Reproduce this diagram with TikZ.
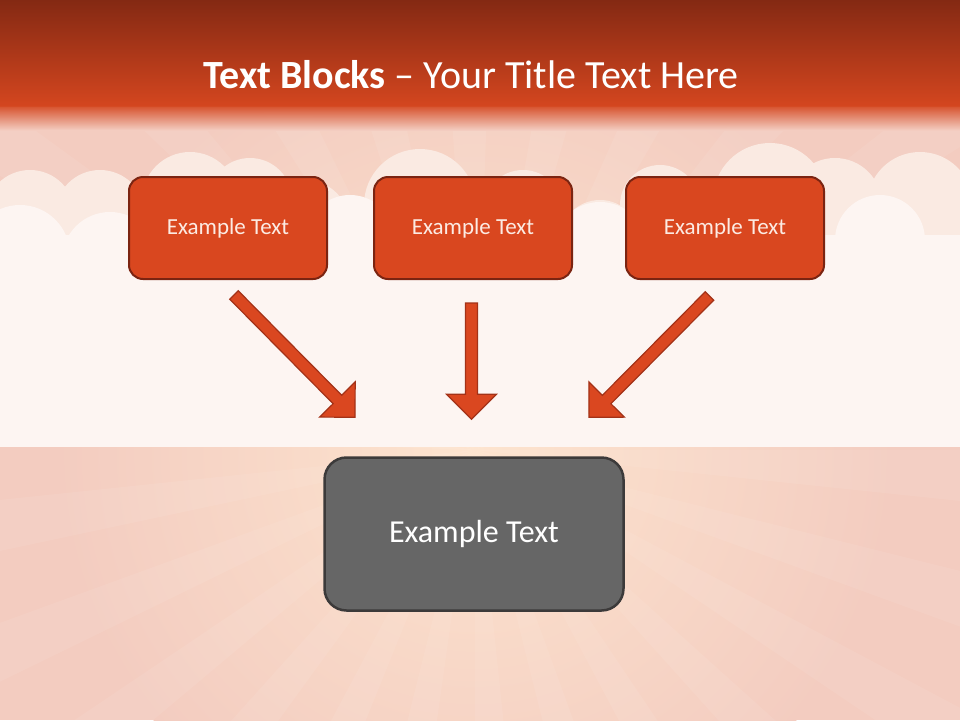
\documentclass[tikz,border=0pt]{standalone}
\usepackage{fontspec}
\setmainfont{Carlito}
\usetikzlibrary{calc,positioning}
\definecolor{barTop}{HTML}{842913}
\definecolor{barBottom}{HTML}{D4461F}
\definecolor{skyPink}{HTML}{F3CCC0}
\definecolor{glowPeach}{HTML}{FDE4CF}
\definecolor{cloudBack}{HTML}{FAEAE2}
\definecolor{cloudFront}{HTML}{FDF5F2}
\definecolor{blockFill}{HTML}{D9471F}
\definecolor{blockLine}{HTML}{7B2411}
\definecolor{blockText}{HTML}{FCEBE3}
\definecolor{arrowFill}{HTML}{DA4720}
\definecolor{arrowLine}{HTML}{A33218}
\definecolor{resultFill}{HTML}{666666}
\definecolor{resultLine}{HTML}{3C3A3A}
\tikzset{
  textblock/.style={draw=blockLine, fill=blockFill, line width=2pt, rounded corners=14pt,
    minimum width=198pt, minimum height=102pt, text=blockText, font=\fontsize{23}{27}\selectfont},
  resultblock/.style={draw=resultLine, fill=resultFill, line width=2.5pt, rounded corners=22pt,
    minimum width=299pt, minimum height=153pt, text=white, font=\fontsize{32}{38}\selectfont},
  blockarrow/.style={fill=arrowFill, draw=arrowLine, line width=1.2pt, line join=miter},
  ray/.style={white, opacity=0.07}
}
% block arrow from #1 to #2
\newcommand{\blockarrow}[2]{%
  \coordinate (hb) at ($(#2)!25pt!(#1)$);
  \filldraw[blockarrow] ($(#1)!6pt!90:(#2)$) -- ($(hb)!6pt!90:(#2)$) -- ($(hb)!25pt!90:(#2)$)
    -- (#2) -- ($(hb)!25pt!-90:(#2)$) -- ($(hb)!6pt!-90:(#2)$) -- ($(#1)!6pt!-90:(#2)$) -- cycle;
}
\begin{document}
\begin{tikzpicture}[x=1pt, y=-1pt]
\useasboundingbox (0,0) rectangle (960,720);
% background and sun rays
\fill[skyPink] (0,0) rectangle (960,720);
\shade[inner color=glowPeach, outer color=skyPink] (475,450) circle (420);
\coordinate (sun) at (475,450);
\foreach \a in {0,14,...,346}
  \fill[ray] (sun) -- ($(sun)+(\a:900)$) -- ($(sun)+(\a+6:900)$) -- cycle;
% clouds
\fill[cloudBack] (30,215) circle (45) (100,215) circle (45) (190,200) circle (48)
  (250,200) circle (42) (305,225) circle (45) (420,205) circle (56) (523,210) circle (40)
  (600,240) circle (40) (660,205) circle (40) (770,200) circle (57) (835,205) circle (47)
  (920,205) circle (53);
\fill[cloudBack] (0,220) rectangle (960,447);
\fill[cloudFront] (20,255) circle (50) (110,260) circle (48) (260,250) circle (50)
  (350,240) circle (45) (470,250) circle (50) (600,250) circle (48) (700,245) circle (45)
  (880,240) circle (45);
\fill[cloudFront] (0,235) rectangle (960,447);
% title bar
\shade[top color=barTop, bottom color=barBottom] (0,0) rectangle (960,106);
\shade[top color=barBottom, bottom color=skyPink, opacity=0.95] (0,105) rectangle (960,130);
\node[text=white, font=\fontsize{40}{48}\selectfont, anchor=base] (title) at (471,88)
  {\textbf{Text Blocks} -- Your Title Text Here};
% blocks
\node[textblock] (block1) at (228,228) {Example Text};
\node[textblock] (block2) at (473,228) {Example Text};
\node[textblock] (block3) at (725,228) {Example Text};
\node[resultblock] (result) at (474,534) {Example Text};
% arrows
\coordinate (s1) at ([shift={(6,15)}]block1.south);
\coordinate (s2) at ([shift={(-1.5,23)}]block2.south);
\coordinate (s3) at ([shift={(-15.5,16)}]block3.south);
\coordinate (t1) at ([shift={(-119,-39)}]result.north);
\coordinate (t2) at ([shift={(-2.5,-37)}]result.north);
\coordinate (t3) at ([shift={(115,-39)}]result.north);
\blockarrow{s1}{t1}
\blockarrow{s2}{t2}
\blockarrow{s3}{t3}
\end{tikzpicture}
\end{document}
